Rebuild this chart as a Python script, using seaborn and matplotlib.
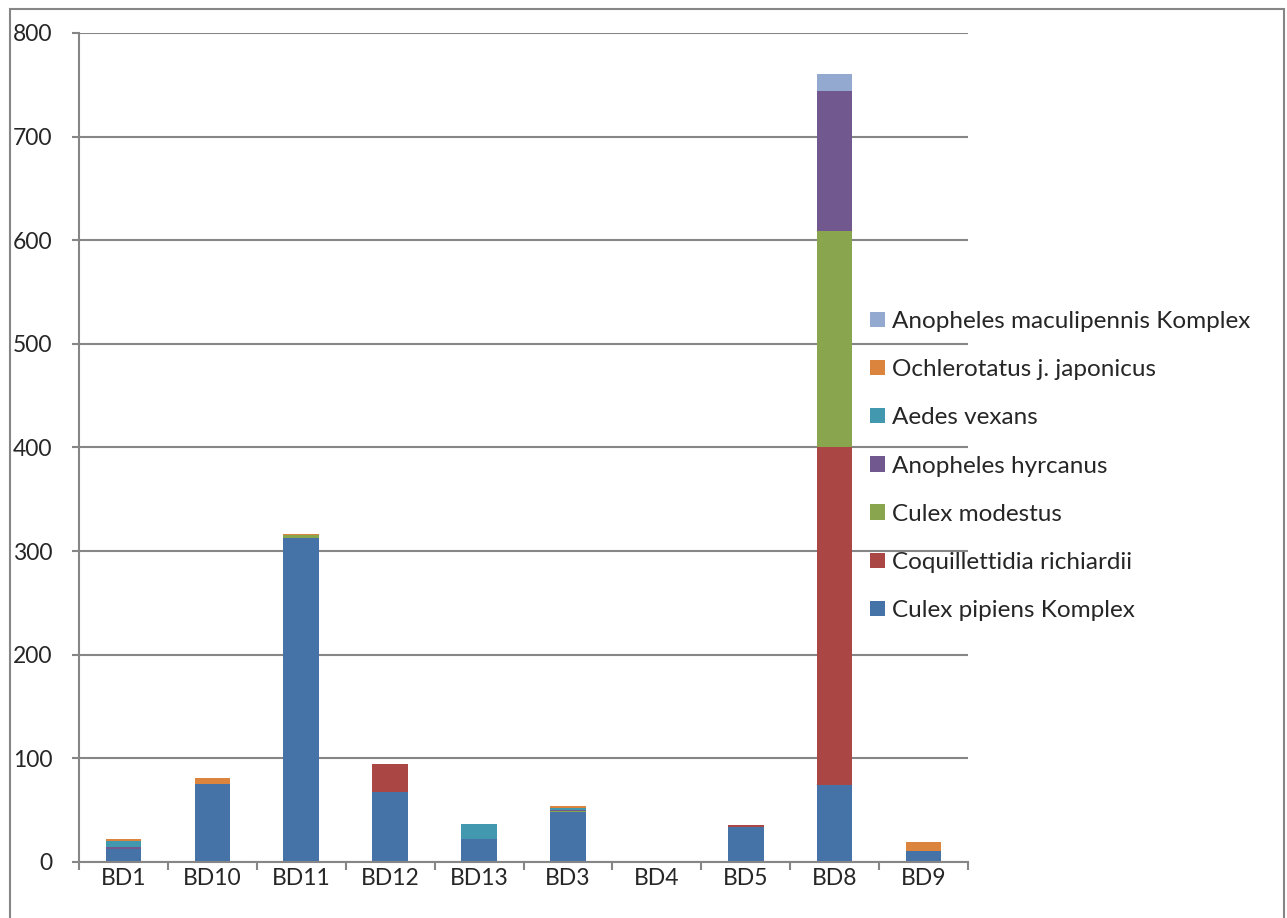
import numpy as np
import pandas as pd
import matplotlib
matplotlib.use("Agg")
import matplotlib.pyplot as plt
import seaborn as sns
from matplotlib.patches import Rectangle

sites = ["BD1", "BD10", "BD11", "BD12", "BD13", "BD3", "BD4", "BD5", "BD8", "BD9"]

# Anzahl je Art und Standort
culex_pipiens = [13, 75, 313, 68, 22, 48, 0, 34, 74, 11]
coquillettidia = [0, 0, 0, 27, 0, 0, 0, 1.5, 326, 0]
culex_modestus = [0, 0, 3, 0, 0, 1, 0, 0, 209, 0]
anopheles_hyrcanus = [1, 0, 0, 0, 0, 1, 0, 0, 135, 0]
aedes_vexans = [6, 0, 0, 0, 15, 2, 0, 0, 0, 0]
ochlerotatus = [2, 6, 1, 0, 0, 2, 0, 0, 0, 8]
anopheles_maculipennis = [0, 0, 0, 0, 0, 0, 0, 0, 16, 0]

species = ["Anopheles maculipennis Komplex", "Ochlerotatus j. japonicus", "Aedes vexans",
           "Anopheles hyrcanus", "Culex modestus", "Coquillettidia richiardii",
           "Culex pipiens Komplex"]
counts = [anopheles_maculipennis, ochlerotatus, aedes_vexans, anopheles_hyrcanus,
          culex_modestus, coquillettidia, culex_pipiens]
colors = ["#93A9CF", "#DB843D", "#4198AF", "#71588F", "#89A54E", "#AA4643", "#4572A7"]

rows = []
for sp, vals in zip(species, counts):
    for site, v in zip(sites, vals):
        rows.append({"site": site, "species": sp, "count": v})
df = pd.DataFrame(rows)
df["site"] = pd.Categorical(df["site"], categories=sites, ordered=True)

sns.set_style("white")
plt.rcParams["font.family"] = ["Lato", "DejaVu Sans"]
grid_col = "#868686"

fig = plt.figure(figsize=(12.87, 9.18), dpi=100)
ax = fig.add_axes([79 / 1287, 1 - 862 / 918, (968 - 79) / 1287, (862 - 33) / 918])

sns.histplot(data=df, x="site", hue="species", weights="count", multiple="stack",
             discrete=True, shrink=0.4, hue_order=species, palette=colors,
             linewidth=0, alpha=1, ax=ax)

ax.set_ylim(0, 800)
ax.set_xlim(-0.5, len(sites) - 0.5)
ax.set_yticks(np.arange(0, 801, 100))
ax.set_xticks(range(len(sites)))
ax.set_xticklabels(sites)
ax.set_xticks(np.arange(-0.5, len(sites), 1.0), minor=True)
ax.set_xlabel("")
ax.set_ylabel("")

ax.yaxis.grid(True, color=grid_col, linewidth=1.5)
ax.set_axisbelow(True)
for s in ["top", "right"]:
    ax.spines[s].set_visible(False)
for s in ["left", "bottom"]:
    ax.spines[s].set_color(grid_col)
    ax.spines[s].set_linewidth(1.5)

ax.tick_params(axis="y", which="major", length=5, width=1.5, color=grid_col,
               labelsize=16.5, pad=14, left=True)
ax.tick_params(axis="x", which="major", length=0, labelsize=16.5, pad=4)
ax.tick_params(axis="x", which="minor", length=6, width=1.5, color=grid_col, bottom=True)

sns.move_legend(ax, loc="center left", bbox_to_anchor=(870 / 1287, 1 - 466 / 918),
                bbox_transform=fig.transFigure, frameon=False, title=None,
                fontsize=17.5, handlelength=0.6, handleheight=0.6, handletextpad=0.3,
                labelspacing=1.12, borderaxespad=0, borderpad=0)

# Rahmen um das Diagramm
fig.patches.append(Rectangle((10 / 1287, -0.05), 1274 / 1287, 1.05 - 9.5 / 918,
                             transform=fig.transFigure, fill=False,
                             edgecolor=grid_col, linewidth=1.5))

fig.savefig("out.png", dpi=100)
